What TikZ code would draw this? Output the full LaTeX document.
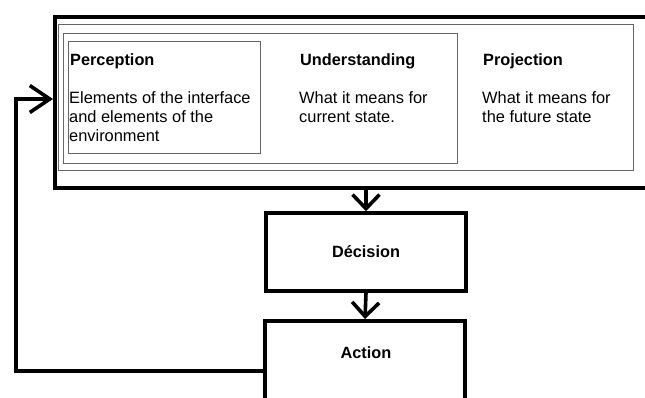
\documentclass[tikz,border=0pt]{standalone}
\usepackage{fontspec}
\setmainfont{Liberation Sans}
\usepackage{tikz}
\usetikzlibrary{arrows.meta,calc}

\tikzset{
  thickbox/.style={draw=black,line width=3.6pt,inner sep=0pt},
  thinbox/.style={draw=black!60,line width=1.3pt,inner sep=0pt},
  title/.style={anchor=base west,inner sep=0pt,font=\fontsize{16.3}{19}\selectfont\bfseries},
  body/.style={anchor=north west,inner sep=0pt,align=left,font=\fontsize{16.4}{19}\selectfont},
  flow/.style={line width=3.6pt,-{Straight Barb[length=14pt,width=27pt]}}
}

\begin{document}
\begin{tikzpicture}[x=1pt,y=-1pt]
    \clip (0,0) rectangle (645,397);
    % situation awareness
    \node[thickbox,anchor=north west,minimum width=600,minimum height=171] (sa) at (53,15) {};
    \node[thinbox,anchor=north west,minimum width=575,minimum height=146] (levels) at (58,24) {};
    \node[thinbox,anchor=north west,minimum width=394,minimum height=130] (inner) at (63,33) {};
    \node[thinbox,anchor=north west,minimum width=192,minimum height=112] (perc) at (68,41) {};
    \foreach \x/\name/\head/\text in {
      70/perc/Perception/{Elements of the interface\\and elements of the\\environment},
      300/under/Understanding/{What it means for\\current state.},
      483/proj/Projection/{What it means for\\the future state}} {
     \node[title] (\name-head) at (\x,65) {\head};
     \node[body] (\name-text) at (\x-1,91) {\text};
    }
    % decision and action
    \node[thickbox,minimum width=200,minimum height=78,font=\fontsize{16.3}{19}\selectfont\bfseries] (dec) at (366,252) {Décision};
    \node[thickbox,anchor=north,minimum width=200,minimum height=100] (act) at (365,319) {};
    \node[font=\fontsize{16.3}{19}\selectfont\bfseries] (act-text) at (366,353) {Action};
    \draw[flow] (sa.south -| dec.north) -- (dec.north);
    \draw[flow] (dec.south) -- (act.north);
    \draw[flow,-{Straight Barb[length=20pt,width=27pt]}] (act.west) -| (16,99) -- (sa.west |- 0,99);
\end{tikzpicture}
\end{document}
